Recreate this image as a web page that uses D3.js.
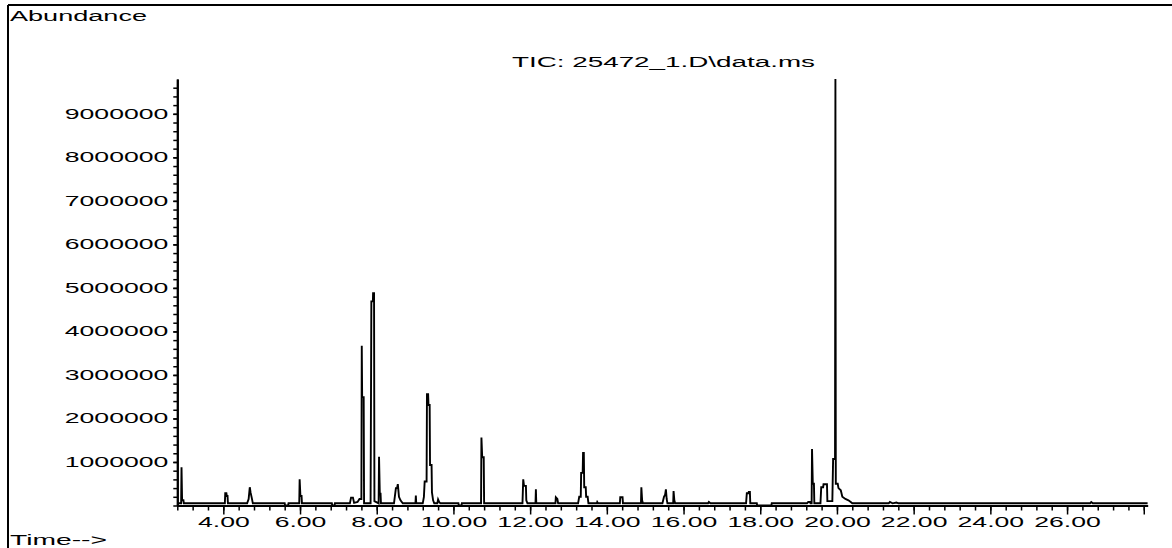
<!DOCTYPE html>
<html>
<head>
<meta charset="utf-8">
<script src="https://cdn.jsdelivr.net/npm/d3@7"></script>
<style>
  html, body { margin: 0; padding: 0; background: #fff; }
  svg { display: block; }
  text { font-family: "Liberation Sans", Arial, sans-serif; font-size: 14px; fill: #000; }
</style>
</head>
<body>
<svg id="chart" width="1172" height="548"></svg>
<script>
// Total ion chromatogram: retention time (min) and abundance (counts) of each trace vertex
const traceTime = [
  2.80, 2.90, 2.91, 2.925, 2.96, 2.97,
  4.04, 4.05, 4.08, 4.09, 4.11, 4.12,
  4.62, 4.66, 4.69, 4.71, 4.74, 4.77,
  5.60, 5.61, 5.69, 5.70,
  5.98, 5.99, 6.01, 6.04, 6.05,
  6.83, 6.84, 6.90, 6.91,
  7.30, 7.33, 7.38, 7.41, 7.50, 7.55, 7.60,
  7.61, 7.62, 7.66, 7.67,
  7.84, 7.86, 7.90, 7.905, 7.93, 7.94,
  8.05, 8.06, 8.08, 8.10, 8.11,
  8.45, 8.50, 8.53, 8.55, 8.58, 8.62, 8.68,
  9.01, 9.02, 9.03,
  9.20, 9.23, 9.25, 9.30, 9.31, 9.34, 9.35, 9.38, 9.39, 9.43, 9.44, 9.47, 9.50,
  9.58, 9.60, 9.63, 9.66,
  10.13, 10.14, 10.21, 10.22,
  10.72, 10.73, 10.75, 10.79, 10.80,
  11.80, 11.82, 11.84, 11.89, 11.90, 11.93,
  12.14, 12.15, 12.16,
  12.66, 12.67, 12.71, 12.73,
  13.25, 13.28, 13.32, 13.33, 13.37, 13.38, 13.40, 13.41, 13.45, 13.46, 13.50, 13.52,
  13.74, 13.75, 13.77,
  14.34, 14.35, 14.41, 14.42,
  14.89, 14.90, 14.92, 14.94,
  15.45, 15.49, 15.52, 15.54, 15.56, 15.58,
  15.73, 15.74, 15.76, 15.78,
  16.64, 16.66, 16.70,
  17.63, 17.65, 17.69, 17.70, 17.73, 17.74,
  17.91, 17.92, 18.29, 18.30,
  19.22, 19.25, 19.30, 19.31,
  19.34, 19.35, 19.37, 19.40, 19.41,
  19.57, 19.59, 19.64, 19.65, 19.74, 19.75,
  19.88, 19.90, 19.95, 19.96, 19.97, 20.02, 20.04, 20.10, 20.14, 20.22, 20.30, 20.36, 20.40,
  21.35, 21.38, 21.45, 21.55, 21.60,
  26.60, 26.63, 26.67,
  28.10
];
const traceAbundance = [
  50000, 50000, 880000, 120000, 120000, 50000,
  50000, 280000, 280000, 220000, 220000, 50000,
  50000, 150000, 420000, 300000, 180000, 50000,
  50000, 0, 0, 50000,
  50000, 600000, 220000, 220000, 50000,
  50000, 0, 0, 50000,
  50000, 180000, 180000, 60000, 80000, 150000, 150000,
  3670000, 2490000, 2490000, 50000,
  50000, 4690000, 4690000, 4880000, 4880000, 100000,
  50000, 1120000, 270000, 270000, 50000,
  50000, 400000, 400000, 490000, 200000, 120000, 50000,
  50000, 230000, 50000,
  50000, 200000, 550000, 550000, 2560000, 2560000, 2310000, 2310000, 930000, 930000, 300000, 120000, 50000,
  50000, 140000, 80000, 50000,
  50000, 0, 0, 50000,
  50000, 1560000, 1110000, 1110000, 50000,
  50000, 600000, 450000, 450000, 120000, 50000,
  50000, 370000, 50000,
  50000, 190000, 150000, 50000,
  50000, 200000, 200000, 750000, 750000, 1210000, 1210000, 420000, 420000, 200000, 200000, 50000,
  50000, 80000, 50000,
  50000, 190000, 190000, 50000,
  50000, 420000, 120000, 50000,
  50000, 200000, 250000, 370000, 150000, 50000,
  50000, 330000, 120000, 50000,
  50000, 80000, 50000,
  50000, 280000, 280000, 310000, 310000, 50000,
  50000, 0, 0, 50000,
  50000, 80000, 80000, 50000,
  50000, 1300000, 500000, 500000, 50000,
  50000, 420000, 420000, 490000, 490000, 100000,
  100000, 1070000, 1070000, 9800000, 500000, 500000, 400000, 350000, 200000, 150000, 120000, 80000, 50000,
  50000, 80000, 50000, 70000, 50000,
  50000, 80000, 50000,
  50000
];

// Axis ticks
const timeLabelTicks = [4, 6, 8, 10, 12, 14, 16, 18, 20, 22, 24, 26, 28];
const timeLabelsShown = [4, 6, 8, 10, 12, 14, 16, 18, 20, 22, 24, 26];
const abundanceLabelTicks = [1000000, 2000000, 3000000, 4000000, 5000000, 6000000, 7000000, 8000000, 9000000];

const titleText = "TIC: 25472_1.D\\data.ms";
const yAxisTitle = "Abundance";
const xAxisTitle = "Time-->";

const svg = d3.select("#chart");
const W = 1172, H = 548;

const x = d3.scaleLinear().domain([2.8, 28.1]).range([177.3, 1147.6]);
const y = d3.scaleLinear().domain([0, 9800000]).range([505.5, 79]);

// Page frame: top rule and left rule
svg.append("line").attr("x1", 8).attr("x2", W).attr("y1", 5).attr("y2", 5)
  .attr("stroke", "#000").attr("stroke-width", 2);
svg.append("line").attr("x1", 8).attr("x2", 8).attr("y1", 5).attr("y2", H)
  .attr("stroke", "#000").attr("stroke-width", 2);

// Text widened horizontally (the instrument font is a wide face)
const STRETCH = 1.9;

// minor x ticks every 0.4 min, minor y ticks every 200000 counts
const minorTimeTicks = d3.range(0, 64).map(i => +(2.8 + i * 0.4).toFixed(1)).filter(v => v <= 28.1);
const minorAbundanceTicks = d3.range(0, 49).map(i => i * 200000);

// X axis: minor ticks
const gxMinor = svg.append("g").attr("transform", `translate(0,${y(0)})`)
  .call(d3.axisBottom(x).tickValues(minorTimeTicks).tickSize(5).tickSizeOuter(0).tickFormat(""));
// X axis: major ticks + labels
const gxMajor = svg.append("g").attr("transform", `translate(0,${y(0)})`)
  .call(d3.axisBottom(x).tickValues(timeLabelTicks).tickSize(9).tickSizeOuter(0)
    .tickFormat(d => timeLabelsShown.includes(d) ? d3.format(".2f")(d) : ""));
gxMajor.selectAll("text")
  .attr("y", 11.5).attr("dy", "0.71em")
  .attr("transform", `scale(${STRETCH},1)`)
  .style("font-size", "14px").style("font-family", "Liberation Sans, Arial, sans-serif");

// Y axis
const gyMinor = svg.append("g").attr("transform", `translate(${x(2.8)},0)`)
  .call(d3.axisLeft(y).tickValues(minorAbundanceTicks.filter(v => v <= 9800000)).tickSize(4).tickSizeOuter(0).tickFormat(""));
const gyMajor = svg.append("g").attr("transform", `translate(${x(2.8)},0)`)
  .call(d3.axisLeft(y).tickValues(abundanceLabelTicks).tickSize(4).tickSizeOuter(0).tickFormat(d3.format("d")));
gyMajor.selectAll("text")
  .attr("x", -9 / STRETCH)
  .attr("transform", `scale(${STRETCH},1)`)
  .style("font-size", "14px").style("font-family", "Liberation Sans, Arial, sans-serif");

[gxMinor, gxMajor, gyMinor, gyMajor].forEach(g => {
  g.selectAll("line").attr("stroke", "#000").attr("stroke-width", 1.5);
  g.select(".domain").attr("stroke", "#000").attr("stroke-width", 2);
});

// Chromatogram trace
const pts = traceTime.map((t, i) => [t, traceAbundance[i]]);
const line = d3.line().x(d => x(d[0])).y(d => y(d[1]));
svg.append("path")
  .attr("d", line(pts))
  .attr("fill", "none")
  .attr("stroke", "#000")
  .attr("stroke-width", 1.9)
  .attr("stroke-linejoin", "miter");

// Titles
function wideText(str, px, py, width) {
  svg.append("text").attr("x", px).attr("y", py)
    .attr("textLength", width).attr("lengthAdjust", "spacingAndGlyphs")
    .text(str);
}
wideText(yAxisTitle, 10, 20.7, 137);
wideText(titleText, 512, 66.5, 303);
wideText(xAxisTitle, 10, 544.5, 97);
</script>
</body>
</html>
